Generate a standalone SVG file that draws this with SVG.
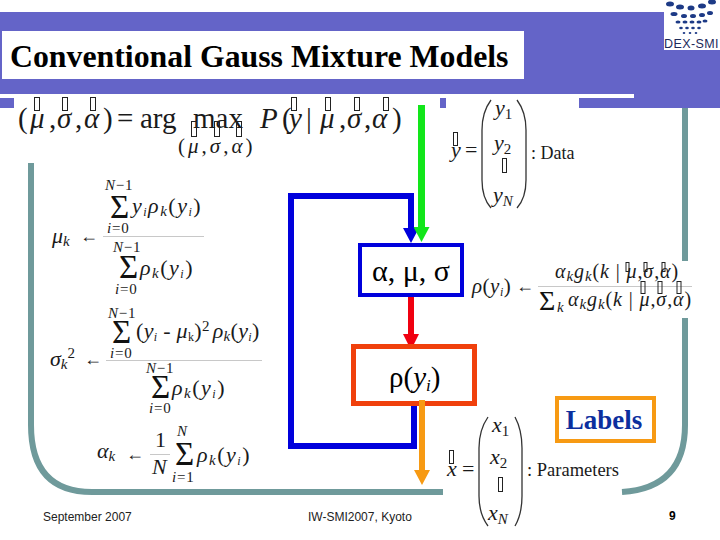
<svg xmlns="http://www.w3.org/2000/svg" width="720" height="540" viewBox="0 0 720 540">
<style>
text{font-family:"Liberation Serif","Times New Roman",serif;fill:#1a1a1a}
.i{font-style:italic}
.m{font-size:22px}.s{font-size:15px}.z{font-size:33px;fill:#111}.b{font-size:12px}
.ls{letter-spacing:1.5px}
.lim{letter-spacing:.8px}
.big{font-size:29px}
.sans{font-family:"Liberation Sans",Arial,sans-serif;font-size:12px;fill:#222}
.tofu{fill:none;stroke:#222;stroke-width:1}
.rule{stroke:#c8c8c8;stroke-width:1;fill:none}
.paren{fill:none;stroke:#333;stroke-width:1.3}
.teal{fill:none;stroke:#6f9a9b;stroke-width:6}
.c{fill:none;stroke-width:6}
.dot{fill:#1d3a86}
</style>
<defs>
<marker id="hb" markerUnits="userSpaceOnUse" markerWidth="16" markerHeight="16" refX="0" refY="8" orient="auto"><path d="M0 0L15 8L0 16Z" fill="#0000dc"/></marker>
<marker id="hg" markerUnits="userSpaceOnUse" markerWidth="16" markerHeight="16" refX="0" refY="8" orient="auto"><path d="M0 0L15 8L0 16Z" fill="#12e61a"/></marker>
<marker id="hr" markerUnits="userSpaceOnUse" markerWidth="16" markerHeight="16" refX="0" refY="8" orient="auto"><path d="M0 0L16 8L0 16Z" fill="#f00010"/></marker>
<marker id="ho" markerUnits="userSpaceOnUse" markerWidth="16" markerHeight="16" refX="0" refY="8" orient="auto"><path d="M0 0L15 8L0 16Z" fill="#f79a13"/></marker>
</defs>
<rect width="720" height="540" fill="#fff"/>
<g id="background">
<rect x="0" y="12" width="636" height="82" fill="#6464c8"/>
<rect x="634" y="12" width="86" height="96" fill="#6464c8"/>
<rect x="579" y="98" width="56" height="10" fill="#6464c8"/>
<rect x="0" y="98" width="14" height="10" fill="#6464c8"/>
<rect x="440" y="98" width="6" height="10" fill="#6464c8"/>
<path class="teal" d="M31 163V425Q31 492 92 492H443"/>
<path class="teal" d="M685 108V261M685 318V425Q685 488 622 492"/>
</g>
<g id="title">
<rect x="2" y="31" width="522" height="48" fill="#fff"/>
<text x="10" y="67" style="font-weight:bold;font-size:31.800px;fill:#000">Conventional Gauss Mixture Models</text>
</g>
<g id="logo">
<rect x="664" y="0" width="56" height="50" fill="#fff"/>
<ellipse class="dot" cx="670" cy="4" rx="4" ry="2.5"/><ellipse class="dot" cx="680" cy="7" rx="4" ry="2.5"/><ellipse class="dot" cx="691" cy="8" rx="3.5" ry="2.5"/><ellipse class="dot" cx="702" cy="6" rx="4" ry="2.5"/><ellipse class="dot" cx="712" cy="2" rx="4" ry="2.5"/>
<ellipse class="dot" cx="674" cy="14" rx="3.5" ry="2"/><ellipse class="dot" cx="684" cy="16" rx="3" ry="2"/><ellipse class="dot" cx="693" cy="16" rx="3" ry="2"/><ellipse class="dot" cx="702" cy="15" rx="3" ry="2"/><ellipse class="dot" cx="710" cy="13" rx="3" ry="2"/>
<ellipse class="dot" cx="678" cy="22" rx="2.5" ry="1.6"/><ellipse class="dot" cx="685" cy="22" rx="2.5" ry="1.6"/><ellipse class="dot" cx="692" cy="22" rx="2.5" ry="1.6"/><ellipse class="dot" cx="699" cy="22" rx="2.5" ry="1.6"/><ellipse class="dot" cx="705" cy="21" rx="2.5" ry="1.6"/>
<ellipse class="dot" cx="681" cy="28" rx="1.8" ry="1.2"/><ellipse class="dot" cx="687" cy="28" rx="1.8" ry="1.2"/><ellipse class="dot" cx="693" cy="28" rx="1.8" ry="1.2"/><ellipse class="dot" cx="699" cy="28" rx="1.8" ry="1.2"/>
<ellipse class="dot" cx="684" cy="33" rx="1.3" ry="1"/><ellipse class="dot" cx="690" cy="33" rx="1.3" ry="1"/><ellipse class="dot" cx="696" cy="33" rx="1.3" ry="1"/>
<text x="664" y="48" style="font-family:'Liberation Sans',Arial,sans-serif;font-size:12.500px;letter-spacing:.4px;fill:#1d2a5a">DEX-SMI</text>
</g>
<g id="connectors">
<path class="c" d="M414 406V446H291V196H411V228" stroke="#0000dc" marker-end="url(#hb)"/>
<path class="c" d="M421.500 105V227" stroke="#12e61a" style="stroke-width:7" marker-end="url(#hg)"/>
<path class="c" d="M411 297V334" stroke="#f00010" marker-end="url(#hr)"/>
<path class="c" d="M422 400V470" stroke="#f79a13" marker-end="url(#ho)"/>
</g>
<g id="node-params">
<rect x="360" y="245" width="102" height="50" fill="#fff" stroke="#0000dc" stroke-width="4"/>
<text x="411" y="281" text-anchor="middle" style="font-size:30px;fill:#000">α, μ, σ</text>
</g>
<g id="node-rho">
<rect x="353.500" y="346.500" width="121" height="57" fill="#fff" stroke="#f0400c" stroke-width="5"/>
<text x="389" y="387" style="font-size:29px;fill:#000">ρ(<tspan class="i">y</tspan><tspan class="i" font-size="17" dy="4">i</tspan><tspan dy="-4">)</tspan></text>
<rect x="419" y="400" width="6" height="6" fill="#f79a13"/>
</g>
<g id="node-labels">
<rect x="557" y="398" width="97" height="43" fill="#fff" stroke="#f79a13" stroke-width="4"/>
<text x="604" y="429" text-anchor="middle" style="font-weight:bold;font-size:27px;fill:#0c2f9e">Labels</text>
</g>
<g id="eq-main">
<text class="big" y="128" x="18">(</text><text class="big i" y="128" x="30">μ</text>
<text class="big" y="128" x="49">,</text><text class="big i" y="128" x="57">σ</text><text class="big" y="128" x="75">,</text><text class="big i" y="128" x="84">α</text><text class="big" y="128" x="103">)</text>
<text class="big" y="128" x="117">=</text><text class="big" y="128" x="140">arg</text><text class="big" y="128" x="193">max</text>
<text class="big i" y="128" x="260">P</text><text class="big" y="128" x="282">(</text><text class="big i" y="128" x="289">y</text><text class="big" y="128" x="306">|</text><text class="big i" y="128" x="320">μ</text><text class="big" y="128" x="339">,</text><text class="big i" y="128" x="347">σ</text><text class="big" y="128" x="364">,</text><text class="big i" y="128" x="372">α</text><text class="big" y="128" x="392">)</text>
<text x="178" y="153" style="font-size:21px;letter-spacing:3px">(<tspan class="i">μ</tspan>,<tspan class="i">σ</tspan>,<tspan class="i">α</tspan>)</text>
<rect class="tofu" x="34.500" y="97.500" width="5" height="13"/><rect class="tofu" x="62.500" y="97.500" width="5" height="13"/><rect class="tofu" x="90.500" y="97.500" width="5" height="13"/>
<rect class="tofu" x="291.500" y="97.500" width="5" height="13"/><rect class="tofu" x="325.500" y="97.500" width="5" height="13"/><rect class="tofu" x="354.500" y="97.500" width="5" height="13"/><rect class="tofu" x="383.500" y="97.500" width="5" height="13"/>
<rect class="tofu" x="191.500" y="121.500" width="5" height="15"/><rect class="tofu" x="214.500" y="121.500" width="5" height="15"/><rect class="tofu" x="236.500" y="121.500" width="5" height="15"/>
</g>
<g id="eq-y">
<text x="451" y="157" class="m i">y</text><text x="465" y="157" class="m">=</text>
<rect class="tofu" x="453.500" y="132.500" width="4" height="13"/>
<path class="paren" d="M491 100Q482 112 482 130V180Q482 198 491 208"/>
<path class="paren" d="M517 100Q526 112 526 130V180Q526 198 517 208"/>
<text x="495" y="115" class="m i">y<tspan class="s" dy="4" style="font-style:normal">1</tspan></text>
<text x="494" y="150" class="m i">y<tspan class="s" dy="4" style="font-style:normal">2</tspan></text>
<rect class="tofu" x="502.500" y="158.500" width="4" height="14"/>
<text x="493" y="202" class="m i">y<tspan class="s" dy="4">N</tspan></text>
<text x="531" y="159" style="font-size:18px">: Data</text>
</g>
<g id="eq-mu">
<text x="105" y="190" class="s i lim">N<tspan style="font-style:normal">−1</tspan></text>
<text x="110" y="218" class="z">Σ</text>
<text x="132" y="213" class="m i ls">y<tspan class="b" dy="3">i</tspan><tspan dy="-3">ρ</tspan><tspan class="s" dy="3">k</tspan><tspan dy="-3" style="font-style:normal">(</tspan>y<tspan class="b" dy="3">i</tspan><tspan dy="-3" style="font-style:normal">)</tspan></text>
<text x="107" y="233" class="s i lim">i<tspan style="font-style:normal">=0</tspan></text>
<line class="rule" x1="103" y1="236.500" x2="204" y2="236.500"/>
<text x="52" y="243" class="m i">μ<tspan class="s" dy="3">k</tspan></text>
<text x="80" y="242" style="font-size:18px">←</text>
<text x="113" y="252" class="s i lim">N<tspan style="font-style:normal">−1</tspan></text>
<text x="119" y="278" class="z">Σ</text>
<text x="140" y="275" class="m i ls">ρ<tspan class="s" dy="3">k</tspan><tspan dy="-3" style="font-style:normal">(</tspan>y<tspan class="b" dy="3">i</tspan><tspan dy="-3" style="font-style:normal">)</tspan></text>
<text x="115" y="294" class="s i lim">i<tspan style="font-style:normal">=0</tspan></text>
</g>
<g id="eq-sigma">
<text x="108" y="318" class="s i lim">N<tspan style="font-style:normal">−1</tspan></text>
<text x="112" y="343" class="z">Σ</text>
<text x="136" y="338" class="m" style="letter-spacing:.3px"><tspan>(</tspan><tspan class="i">y</tspan><tspan class="b i" dy="3">i</tspan><tspan dy="-3"> - </tspan><tspan class="i">μ</tspan><tspan class="b" dy="3">k</tspan><tspan dy="-3">)</tspan><tspan class="s" dy="-7">2</tspan><tspan class="i" dy="7" dx="3">ρ</tspan><tspan class="s i" dy="3">k</tspan><tspan dy="-3">(</tspan><tspan class="i">y</tspan><tspan class="b i" dy="3">i</tspan><tspan dy="-3">)</tspan></text>
<text x="110" y="358" class="s i lim">i<tspan style="font-style:normal">=0</tspan></text>
<line class="rule" x1="106" y1="360.500" x2="262" y2="360.500"/>
<text x="50" y="366" class="m i">σ<tspan class="s" dy="3">k</tspan><tspan class="s" dy="-11" style="font-style:normal">2</tspan></text>
<text x="84" y="365" style="font-size:18px">←</text>
<text x="146" y="373" class="s i lim">N<tspan style="font-style:normal">−1</tspan></text>
<text x="151" y="398" class="z">Σ</text>
<text x="172" y="395" class="m i ls">ρ<tspan class="s" dy="3">k</tspan><tspan dy="-3" style="font-style:normal">(</tspan>y<tspan class="b" dy="3">i</tspan><tspan dy="-3" style="font-style:normal">)</tspan></text>
<text x="149" y="413" class="s i lim">i<tspan style="font-style:normal">=0</tspan></text>
</g>
<g id="eq-alpha">
<text x="97" y="458" class="m i">α<tspan class="s" dy="3">k</tspan></text>
<text x="126" y="460" style="font-size:18px">←</text>
<text x="155" y="447" class="m">1</text>
<line class="rule" x1="150" y1="454.500" x2="170" y2="454.500"/>
<text x="152" y="474" class="m i">N</text>
<text x="177" y="436" class="s i">N</text>
<text x="175" y="465" class="z">Σ</text>
<text x="197" y="462" class="m i ls">ρ<tspan class="s" dy="3">k</tspan><tspan dy="-3" style="font-style:normal">(</tspan>y<tspan class="b" dy="3">i</tspan><tspan dy="-3" style="font-style:normal">)</tspan></text>
<text x="172" y="482" class="s i lim">i<tspan style="font-style:normal">=1</tspan></text>
</g>
<g id="eq-rho">
<text x="472" y="293" class="i" style="font-size:21px;letter-spacing:.5px">ρ<tspan style="font-style:normal">(</tspan>y<tspan class="b" dy="3">i</tspan><tspan dy="-3" style="font-style:normal">)</tspan></text>
<text x="516" y="292" style="font-size:18px">←</text>
<text x="555" y="278" class="i" style="font-size:20px;letter-spacing:.9px">α<tspan class="s" dy="3">k</tspan><tspan dy="-3">g</tspan><tspan class="s" dy="3">k</tspan><tspan dy="-3" style="font-style:normal">(</tspan>k<tspan style="font-style:normal"> | </tspan>μ<tspan style="font-style:normal">,</tspan>σ<tspan style="font-style:normal">,</tspan>α<tspan style="font-style:normal">)</tspan></text>
<line class="rule" x1="538" y1="286.500" x2="692" y2="286.500"/>
<text x="539" y="310" style="font-size:28px;fill:#111">Σ</text>
<text x="557" y="312" class="s i">k</text>
<text x="568" y="306" class="i" style="font-size:20px;letter-spacing:.9px">α<tspan class="s" dy="3">k</tspan><tspan dy="-3">g</tspan><tspan class="s" dy="3">k</tspan><tspan dy="-3" style="font-style:normal">(</tspan>k<tspan style="font-style:normal"> | </tspan>μ<tspan style="font-style:normal">,</tspan>σ<tspan style="font-style:normal">,</tspan>α<tspan style="font-style:normal">)</tspan></text>
<rect class="tofu" x="626" y="262.500" width="3" height="9"/><rect class="tofu" x="644" y="262.500" width="3" height="9"/><rect class="tofu" x="662" y="262.500" width="3" height="9"/>
<rect class="tofu" x="641" y="281.500" width="4" height="12"/><rect class="tofu" x="658" y="281.500" width="4" height="12"/><rect class="tofu" x="677" y="281.500" width="4" height="12"/>
</g>
<g id="eq-x">
<text x="447" y="476" class="m i">x</text><text x="462" y="476" class="m">=</text>
<rect class="tofu" x="449.500" y="450.500" width="4" height="13"/>
<path class="paren" d="M488 417Q479 430 479 448V496Q479 514 488 526"/>
<path class="paren" d="M515 417Q522 430 522 448V496Q522 514 515 526"/>
<text x="492" y="432" class="m i">x<tspan class="s" dy="4" style="font-style:normal">1</tspan></text>
<text x="490" y="464" class="m i">x<tspan class="s" dy="4" style="font-style:normal">2</tspan></text>
<rect class="tofu" x="498.500" y="477.500" width="4" height="14"/>
<text x="488" y="520" class="m i">x<tspan class="s" dy="4">N</tspan></text>
<text x="527" y="476" style="font-size:18.500px">: Parameters</text>
</g>
<g id="footer">
<text x="43" y="521" class="sans">September 2007</text>
<text x="308" y="521" class="sans">IW-SMI2007, Kyoto</text>
<text x="669" y="520" class="sans" style="font-weight:bold;fill:#000">9</text>
</g>
</svg>
